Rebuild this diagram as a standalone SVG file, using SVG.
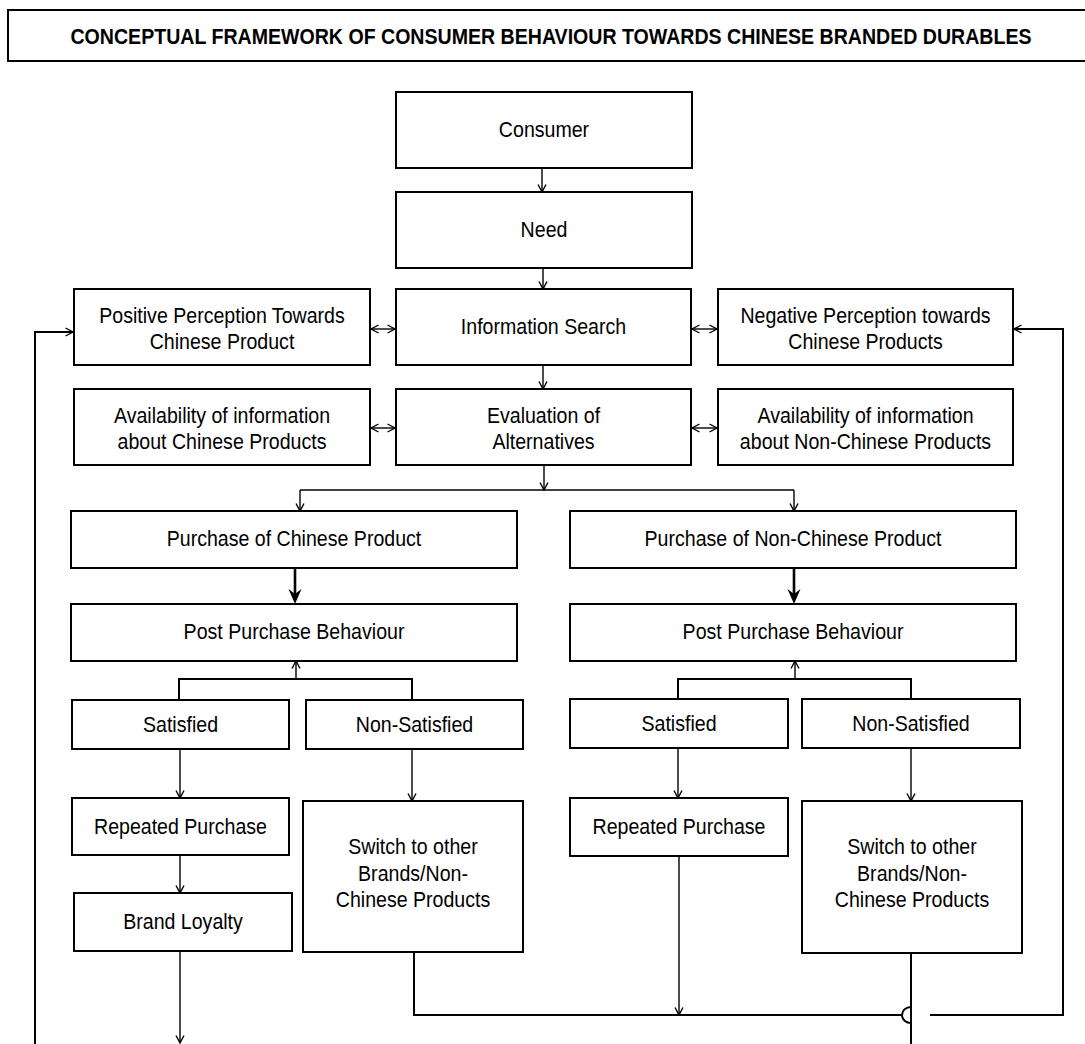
<svg xmlns="http://www.w3.org/2000/svg" width="1085" height="1044" viewBox="0 0 1085 1044">
<defs>
<style>
.box{fill:#fff;stroke:#000;stroke-width:2}
.lbl{font-family:"Liberation Sans",Arial,sans-serif;font-size:22px;text-anchor:middle;fill:#000}
.ttl{font-weight:bold}
.c{fill:none;stroke:#000;stroke-width:1.4}
.w{stroke-width:2}
.t{stroke-width:2.6}
</style>
<marker id="v" viewBox="-9 -5 10 10" refX="0" refY="0" markerWidth="10" markerHeight="10" markerUnits="userSpaceOnUse" orient="auto-start-reverse">
<path d="M-7.5,-4 L0,0 L-7.5,4" fill="none" stroke="#000" stroke-width="1.4"/>
</marker>
<marker id="tk" viewBox="-17 -8 18 16" refX="-10" refY="0" markerWidth="18" markerHeight="16" markerUnits="userSpaceOnUse" orient="auto">
<path d="M0,0 L-15,-6.5 L-10,0 L-15,6.5 Z" fill="#000"/>
</marker>
</defs>
<rect width="1085" height="1044" fill="#fff"/>

<g id="title">
<rect class="box" x="8" y="10" width="1090" height="51"/>
<text class="lbl ttl" transform="matrix(.89 0 0 1 551 0)" x="0" y="44">CONCEPTUAL FRAMEWORK OF CONSUMER BEHAVIOUR TOWARDS CHINESE BRANDED DURABLES</text>
</g>

<g id="connectors">
<path class="c" d="M542,168 V192" marker-end="url(#v)"/>
<path class="c" d="M543,268 V289" marker-end="url(#v)"/>
<path class="c" d="M543,365 V389" marker-end="url(#v)"/>
<path class="c" d="M371,329 H395" marker-start="url(#v)" marker-end="url(#v)"/>
<path class="c" d="M692,329 H717" marker-start="url(#v)" marker-end="url(#v)"/>
<path class="c" d="M371,428 H395" marker-start="url(#v)" marker-end="url(#v)"/>
<path class="c" d="M692,428 H717" marker-start="url(#v)" marker-end="url(#v)"/>
<path class="c" d="M544,465 V490" marker-end="url(#v)"/>
<path class="c" d="M300,490 H794"/>
<path class="c" d="M300,490 V511" marker-end="url(#v)"/>
<path class="c" d="M794,490 V511" marker-end="url(#v)"/>
<path class="c t" d="M295,568 V594" marker-end="url(#tk)"/>
<path class="c t" d="M794,568 V594" marker-end="url(#tk)"/>
<path class="c" d="M296,679 V661" marker-end="url(#v)"/>
<path class="c w" d="M179,700 V679 H412 V700"/>
<path class="c" d="M795,679 V661" marker-end="url(#v)"/>
<path class="c w" d="M678,699 V679 H911 V699"/>
<path class="c" d="M180,749 V798" marker-end="url(#v)"/>
<path class="c" d="M412,749 V801" marker-end="url(#v)"/>
<path class="c" d="M678,748 V798" marker-end="url(#v)"/>
<path class="c" d="M911,748 V801" marker-end="url(#v)"/>
<path class="c" d="M180,855 V893" marker-end="url(#v)"/>
<path class="c" d="M180,951 V1043" marker-end="url(#v)"/>
<path class="c" d="M679,856 V1015" marker-end="url(#v)"/>
<path class="c w" d="M414,952 V1015 H902"/>
<path class="c w" d="M911,1007 A9,8 0 0 0 911,1023"/>
<path class="c w" d="M930,1015 H1063 V329 H1014" marker-end="url(#v)"/>
<path class="c w" d="M911,953 V1044"/>
<path class="c w" d="M35,1044 V332 H73" marker-end="url(#v)"/>
</g>

<g id="consumer"><rect class="box" x="396" y="92" width="296" height="76"/><text class="lbl" transform="matrix(.89 0 0 1 544 0)" x="0" y="137">Consumer</text></g>
<g id="need"><rect class="box" x="396" y="192" width="296" height="76"/><text class="lbl" transform="matrix(.89 0 0 1 544 0)" x="0" y="237">Need</text></g>
<g id="positive"><rect class="box" x="74" y="289" width="296" height="76"/><text class="lbl" transform="matrix(.89 0 0 1 222 0)" x="0" y="323">Positive Perception Towards</text><text class="lbl" transform="matrix(.89 0 0 1 222 0)" x="0" y="349">Chinese Product</text></g>
<g id="info"><rect class="box" x="396" y="289" width="295" height="76"/><text class="lbl" transform="matrix(.89 0 0 1 543.5 0)" x="0" y="334">Information Search</text></g>
<g id="negative"><rect class="box" x="718" y="289" width="295" height="76"/><text class="lbl" transform="matrix(.89 0 0 1 865.5 0)" x="0" y="323">Negative Perception towards</text><text class="lbl" transform="matrix(.89 0 0 1 865.5 0)" x="0" y="349">Chinese Products</text></g>
<g id="avail-chinese"><rect class="box" x="74" y="389" width="296" height="76"/><text class="lbl" transform="matrix(.89 0 0 1 222 0)" x="0" y="423">Availability of information</text><text class="lbl" transform="matrix(.89 0 0 1 222 0)" x="0" y="449">about Chinese Products</text></g>
<g id="evaluation"><rect class="box" x="396" y="389" width="295" height="76"/><text class="lbl" transform="matrix(.89 0 0 1 543.5 0)" x="0" y="423">Evaluation of</text><text class="lbl" transform="matrix(.89 0 0 1 543.5 0)" x="0" y="449">Alternatives</text></g>
<g id="avail-nonchinese"><rect class="box" x="718" y="389" width="295" height="76"/><text class="lbl" transform="matrix(.89 0 0 1 865.5 0)" x="0" y="423">Availability of information</text><text class="lbl" transform="matrix(.89 0 0 1 865.5 0)" x="0" y="449">about Non-Chinese Products</text></g>
<g id="purchase-chinese"><rect class="box" x="71" y="511" width="446" height="57"/><text class="lbl" transform="matrix(.89 0 0 1 294 0)" x="0" y="546.5">Purchase of Chinese Product</text></g>
<g id="purchase-nonchinese"><rect class="box" x="570" y="511" width="446" height="57"/><text class="lbl" transform="matrix(.89 0 0 1 793 0)" x="0" y="546.5">Purchase of Non-Chinese Product</text></g>
<g id="post-chinese"><rect class="box" x="71" y="604" width="446" height="57"/><text class="lbl" transform="matrix(.89 0 0 1 294 0)" x="0" y="639.5">Post Purchase Behaviour</text></g>
<g id="post-nonchinese"><rect class="box" x="570" y="604" width="446" height="57"/><text class="lbl" transform="matrix(.89 0 0 1 793 0)" x="0" y="639.5">Post Purchase Behaviour</text></g>
<g id="satisfied-chinese"><rect class="box" x="72" y="700" width="217" height="49"/><text class="lbl" transform="matrix(.89 0 0 1 180.5 0)" x="0" y="732">Satisfied</text></g>
<g id="nonsatisfied-chinese"><rect class="box" x="306" y="700" width="217" height="49"/><text class="lbl" transform="matrix(.89 0 0 1 414.5 0)" x="0" y="732">Non-Satisfied</text></g>
<g id="satisfied-nonchinese"><rect class="box" x="570" y="699" width="218" height="49"/><text class="lbl" transform="matrix(.89 0 0 1 679 0)" x="0" y="731">Satisfied</text></g>
<g id="nonsatisfied-nonchinese"><rect class="box" x="802" y="699" width="218" height="49"/><text class="lbl" transform="matrix(.89 0 0 1 911 0)" x="0" y="731">Non-Satisfied</text></g>
<g id="repeated-chinese"><rect class="box" x="72" y="798" width="217" height="57"/><text class="lbl" transform="matrix(.89 0 0 1 180.5 0)" x="0" y="834">Repeated Purchase</text></g>
<g id="repeated-nonchinese"><rect class="box" x="570" y="798" width="218" height="58"/><text class="lbl" transform="matrix(.89 0 0 1 679 0)" x="0" y="834">Repeated Purchase</text></g>
<g id="brand-loyalty"><rect class="box" x="74" y="893" width="218" height="58"/><text class="lbl" transform="matrix(.89 0 0 1 183 0)" x="0" y="929">Brand Loyalty</text></g>
<g id="switch-chinese"><rect class="box" x="303" y="801" width="220" height="151"/><text class="lbl" transform="matrix(.89 0 0 1 413 0)" x="0" y="854">Switch to other</text><text class="lbl" transform="matrix(.89 0 0 1 413 0)" x="0" y="881">Brands/Non-</text><text class="lbl" transform="matrix(.89 0 0 1 413 0)" x="0" y="907">Chinese Products</text></g>
<g id="switch-nonchinese"><rect class="box" x="802" y="801" width="220" height="152"/><text class="lbl" transform="matrix(.89 0 0 1 912 0)" x="0" y="854">Switch to other</text><text class="lbl" transform="matrix(.89 0 0 1 912 0)" x="0" y="881">Brands/Non-</text><text class="lbl" transform="matrix(.89 0 0 1 912 0)" x="0" y="907">Chinese Products</text></g>
</svg>
